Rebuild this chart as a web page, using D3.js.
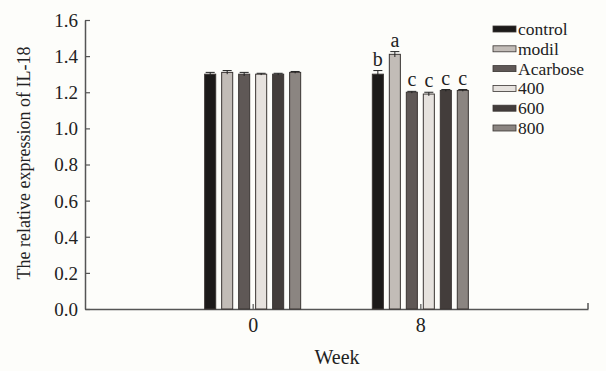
<!DOCTYPE html>
<html>
<head>
<meta charset="utf-8">
<script src="https://cdn.jsdelivr.net/npm/d3@7"></script>
<style>
  body { margin: 0; background: #fdfdfa; }
  svg, svg text { font-family: "Liberation Serif", "Times New Roman", serif; }
</style>
</head>
<body>
<div id="chart"></div>
<script>
var weeks = ['0', '8'];
var groups = ['control', 'modil', 'Acarbose', '400', '600', '800'];
var colors = ['#1c1a19', '#c2bcb7', '#5f5856', '#e6e2de', '#433d3b', '#8b8581'];
var values = [
  [1.30, 1.31, 1.30, 1.30, 1.30, 1.31],
  [1.30, 1.41, 1.20, 1.19, 1.21, 1.21]
];
var errors = [
  [0.01, 0.01, 0.01, 0.005, 0.005, 0.005],
  [0.02, 0.015, 0.005, 0.01, 0.005, 0.005]
];
var letters = [
  ['', '', '', '', '', ''],
  ['b', 'a', 'c', 'c', 'c', 'c']
];
var yTicks = [0, 0.2, 0.4, 0.6, 0.8, 1.0, 1.2, 1.4, 1.6];

var W = 606, H = 371;
var margin = {top: 20, right: 18, bottom: 62, left: 85};

var svg = d3.select('#chart').append('svg')
    .attr('width', W)
    .attr('height', H);

var x = d3.scalePoint()
    .domain(weeks)
    .range([margin.left, 588])
    .padding(1);

var y = d3.scaleLinear()
    .domain([0, 1.6])
    .range([309, margin.top]);

var inner = d3.scaleBand()
    .domain(groups)
    .range([-48, 48])
    .paddingInner(0.35);

var axisColor = '#555';

// y axis
var yAxis = svg.append('g')
    .attr('transform', 'translate(' + margin.left + ',0)')
    .call(d3.axisRight(y).tickValues(yTicks).tickSize(5).tickSizeOuter(0).tickFormat(d3.format('.1f')));
yAxis.attr('font-family', null);
yAxis.select('.domain').attr('stroke', axisColor).attr('stroke-width', 1.5);
yAxis.selectAll('.tick line').attr('stroke', axisColor).attr('stroke-width', 1.2);
yAxis.selectAll('.tick text')
    .attr('x', -7)
    .attr('dy', '0.34em')
    .attr('text-anchor', 'end')
    .attr('fill', '#222')
    .style('font-size', '19px');

// x axis
var xAxis = svg.append('g')
    .attr('transform', 'translate(0,' + 309 + ')')
    .call(d3.axisTop(x).tickSize(5).tickSizeOuter(0));
xAxis.attr('font-family', null);
xAxis.select('.domain').attr('stroke', axisColor).attr('stroke-width', 1.5);
xAxis.selectAll('.tick line').attr('stroke', axisColor).attr('stroke-width', 1.2);
xAxis.selectAll('.tick text')
    .attr('y', 23)
    .attr('dy', null)
    .attr('fill', '#222')
    .style('font-size', '20px');
// end tick at right of x axis
xAxis.append('line')
    .attr('x1', 588).attr('x2', 588)
    .attr('y1', 0).attr('y2', -6)
    .attr('stroke', axisColor).attr('stroke-width', 1.5);

// bars
var gWeek = svg.selectAll('.week')
    .data(weeks)
  .enter().append('g')
    .attr('class', 'week')
    .attr('transform', function(d) { return 'translate(' + x(d) + ',0)'; });

gWeek.each(function(w, wi) {
  var g = d3.select(this);
  var rows = groups.map(function(name, i) {
    return {name: name, v: values[wi][i], e: errors[wi][i], l: letters[wi][i], c: colors[i]};
  });

  g.selectAll('rect')
      .data(rows)
    .enter().append('rect')
      .attr('x', function(d) { return inner(d.name); })
      .attr('width', inner.bandwidth())
      .attr('y', function(d) { return y(d.v); })
      .attr('height', function(d) { return y(0) - y(d.v); })
      .attr('fill', function(d) { return d.c; })
      .attr('stroke', '#3a3533')
      .attr('stroke-width', 1);

  var eb = g.selectAll('.err')
      .data(rows)
    .enter().append('g')
      .attr('class', 'err')
      .attr('stroke', '#222')
      .attr('stroke-width', 1);
  eb.append('line')
      .attr('x1', function(d) { return inner(d.name) + inner.bandwidth() / 2; })
      .attr('x2', function(d) { return inner(d.name) + inner.bandwidth() / 2; })
      .attr('y1', function(d) { return y(d.v - d.e); })
      .attr('y2', function(d) { return y(d.v + d.e); });
  eb.append('line')
      .attr('x1', function(d) { return inner(d.name) + 1; })
      .attr('x2', function(d) { return inner(d.name) + inner.bandwidth() - 1; })
      .attr('y1', function(d) { return y(d.v + d.e); })
      .attr('y2', function(d) { return y(d.v + d.e); });

  g.selectAll('.sig')
      .data(rows)
    .enter().append('text')
      .attr('class', 'sig')
      .attr('x', function(d) { return inner(d.name) + inner.bandwidth() / 2; })
      .attr('y', function(d) { return y(d.v + d.e) - 5; })
      .attr('text-anchor', 'middle')
      .attr('fill', '#222')
      .style('font-size', '20px')
      .text(function(d) { return d.l; });
});

// legend
var legend = svg.append('g')
    .attr('transform', 'translate(493,29)');
var item = legend.selectAll('.item')
    .data(groups)
  .enter().append('g')
    .attr('class', 'item')
    .attr('transform', function(d, i) { return 'translate(0,' + i * 19.8 + ')'; });
item.append('rect')
    .attr('x', 0).attr('y', -3)
    .attr('width', 23).attr('height', 6)
    .attr('fill', function(d, i) { return colors[i]; })
    .attr('stroke', '#3a3533')
    .attr('stroke-width', 0.8);
item.append('text')
    .attr('x', 25).attr('y', 6)
    .attr('fill', '#222')
    .style('font-size', '17.5px')
    .text(function(d) { return d; });

// axis titles
svg.append('text')
    .attr('x', 337).attr('y', 364)
    .attr('text-anchor', 'middle')
    .attr('fill', '#222')
    .style('font-size', '20px')
    .text('Week');

svg.append('text')
    .attr('transform', 'translate(30,163) rotate(-90)')
    .attr('text-anchor', 'middle')
    .attr('fill', '#222')
    .style('font-size', '18px')
    .text('The relative expression of IL-18');
</script>
</body>
</html>
